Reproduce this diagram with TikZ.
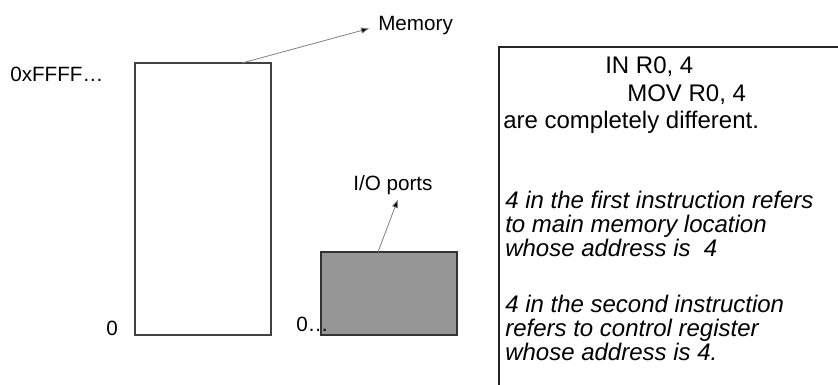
\documentclass[tikz,border=0pt]{standalone}
\usepackage{fontspec}
\setmainfont{Liberation Sans}
\usetikzlibrary{arrows.meta}
\begin{document}
\begin{tikzpicture}[x=0.75pt,y=-0.75pt,
  lbl/.style={font=\fontsize{15.5}{16}\selectfont, inner sep=0pt, anchor=base west},
  boxtxt/.style={font=\fontsize{18}{20}\selectfont, inner sep=0pt, anchor=base west},
  itxt/.style={font=\fontsize{18}{20}\selectfont\itshape, inner sep=0pt, anchor=base west},
  membox/.style={draw=black!75, line width=0.8pt, fill=white, inner sep=0pt},
  iobox/.style={draw=black!80, line width=0.8pt, fill={rgb,255:red,150;green,150;blue,150}, inner sep=0pt},
  arr/.style={draw=black!50, line width=0.6pt, -{Triangle[length=6pt,width=4.5pt,fill=black]}, shorten >=1pt}]
\useasboundingbox (0,0) rectangle (838,385);
% memory block
\node[membox, minimum width=102pt, minimum height=204pt] (mem) at (203,199) {};
% I/O block
\node[iobox, minimum width=102pt, minimum height=62.25pt] (io) at (389,293.5) {};
% labels
\node[lbl] (ffff) at (10,81) {0xFFFF…};
\node[lbl] (zero) at (106,335) {0};
\node[lbl] (iozero) at (296,331) {0…};
\node[lbl] (memlbl) at (378,31) {Memory};
\node[lbl] (iolbl) at (353,190) {I/O ports};
% arrows
\coordinate (ms) at (242,63);
\coordinate (is) at (378,252);
\draw[arr, shorten >=7pt] (ms) -- (memlbl.west);
\draw[arr] (is) -- ([xshift=4pt,yshift=-3pt]iolbl.south);
% text box
\draw[black!85, line width=0.8pt] (499,386) -- (499,47) -- (839,47);
\node[boxtxt] (t1) at (605,74) {IN R0, 4};
\node[boxtxt] (t2) at (627,101) {MOV R0, 4};
\node[boxtxt] (t3) at (503,128) {are completely different.};
\node[itxt] (t4) at (505,208) {4 in the first instruction refers};
\node[itxt] (t5) at (505,232) {to main memory location};
\node[itxt] (t6) at (505,256) {whose address is\ \ 4};
\node[itxt] (t7) at (505,312) {4 in the second instruction};
\node[itxt] (t8) at (505,336) {refers to control register};
\node[itxt] (t9) at (505,360) {whose address is 4.};
\end{tikzpicture}
\end{document}
